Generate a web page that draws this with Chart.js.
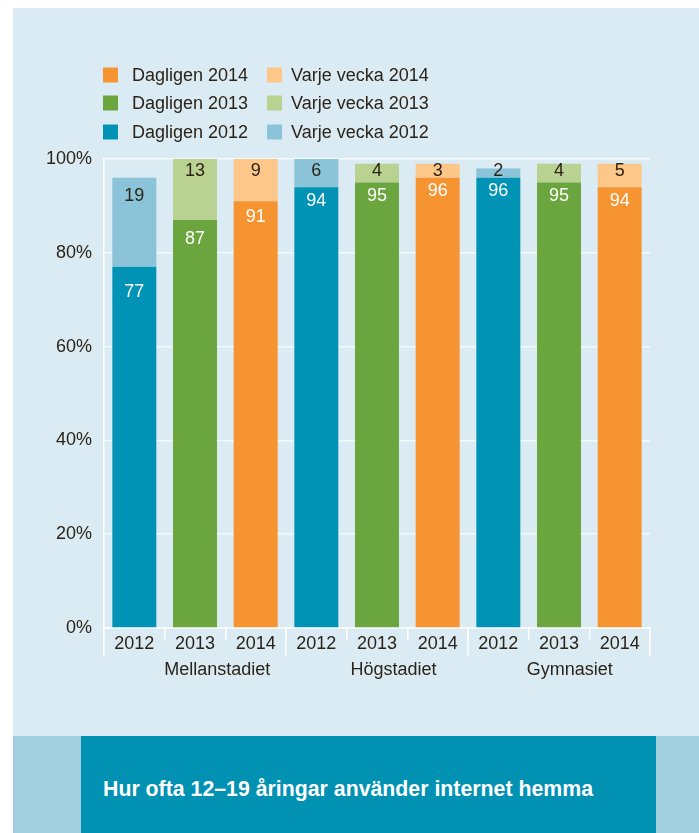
<!DOCTYPE html>
<html>
<head>
<meta charset="utf-8">
<script src="https://cdn.jsdelivr.net/npm/chart.js@4.4.1/dist/chart.umd.min.js"></script>
<style>
  html, body { margin: 0; padding: 0; background: #ffffff; width: 699px; height: 833px; overflow: hidden; }
  #panel { position: absolute; left: 13px; top: 8px; width: 686px; height: 728px; background: #dbebf3; }
  #strip { position: absolute; left: 13px; top: 736px; width: 686px; height: 97px; background: #a2cfe0; }
  #box { position: absolute; left: 81px; top: 736px; width: 575px; height: 97px; background: #0091b3; }
  #title { position: absolute; left: 103px; top: 777px; color: #ffffff; font: bold 21.3px "Liberation Sans", Arial, sans-serif; white-space: nowrap; }
  #wrap { position: absolute; left: 0; top: 0; width: 699px; height: 833px; }
</style>
</head>
<body>
<div id="panel"></div>
<div id="strip"></div>
<div id="box"></div>
<div id="title">Hur ofta 12–19 åringar använder internet hemma</div>
<div id="wrap"><canvas id="c" width="699" height="833"></canvas></div>
<script>
// ---- Data ----
const years = ['2012', '2013', '2014'];
const groups = ['Mellanstadiet', 'Högstadiet', 'Gymnasiet'];
// values per group (Mellanstadiet, Högstadiet, Gymnasiet)
const daily2012 = [77, 94, 96];
const weekly2012 = [19, 6, 2];
const daily2013 = [87, 95, 95];
const weekly2013 = [13, 4, 4];
const daily2014 = [91, 96, 94];
const weekly2014 = [9, 3, 5];
const yTicks = [0, 20, 40, 60, 80, 100];

// ---- Build ----
const categories = groups.flatMap(() => years);
function place(yearIndex, values) {
  const arr = new Array(categories.length).fill(null);
  values.forEach((v, g) => { arr[g * years.length + yearIndex] = v; });
  return arr;
}
const TEXT = '#2b2418';
const FONT = '"Liberation Sans", Arial, sans-serif';
const FS = 18;

const datasets = [
  { label: 'Dagligen 2012', data: place(0, daily2012), backgroundColor: '#0093b6', dark: true },
  { label: 'Varje vecka 2012', data: place(0, weekly2012), backgroundColor: '#8bc3d8', dark: false },
  { label: 'Dagligen 2013', data: place(1, daily2013), backgroundColor: '#6ba53d', dark: true },
  { label: 'Varje vecka 2013', data: place(1, weekly2013), backgroundColor: '#b9d191', dark: false },
  { label: 'Dagligen 2014', data: place(2, daily2014), backgroundColor: '#f59431', dark: true },
  { label: 'Varje vecka 2014', data: place(2, weekly2014), backgroundColor: '#fcc788', dark: false }
].map(d => Object.assign(d, { stack: 's', xAxisID: 'x', barPercentage: 0.725, categoryPercentage: 1.0, borderWidth: 0 }));

const valueLabels = {
  id: 'valueLabels',
  afterDatasetsDraw(chart) {
    const ctx = chart.ctx;
    const top = chart.chartArea.top;
    const pxPerUnit = chart.chartArea.height / 100;
    ctx.save();
    ctx.font = FS + 'px ' + FONT;
    ctx.textAlign = 'center';
    ctx.textBaseline = 'middle';
    chart.data.datasets.forEach((ds, i) => {
      const meta = chart.getDatasetMeta(i);
      meta.data.forEach((el, j) => {
        const v = ds.data[j];
        if (v == null) return;
        const h = el.base - el.y;
        let y;
        if (ds.dark) y = el.y + 13 + 0.13 * Math.max(0, 96 * pxPerUnit - h);
        else y = Math.max(top + 12.5, el.y + 0.2 * h);
        ctx.fillStyle = ds.dark ? '#ffffff' : TEXT;
        ctx.fillText(String(v), el.x, y);
      });
    });
    ctx.restore();
  }
};

const customLegend = {
  id: 'customLegend',
  afterDraw(chart) {
    const ctx = chart.ctx;
    const dsets = chart.data.datasets;
    const rows = [[4, 5], [2, 3], [0, 1]];
    const rowY = [75, 103, 132];
    const colX = [103, 267];
    const textX = [132, 291];
    ctx.save();
    ctx.font = FS + 'px ' + FONT;
    ctx.textBaseline = 'middle';
    ctx.textAlign = 'left';
    rows.forEach((r, ri) => {
      r.forEach((di, ci) => {
        ctx.fillStyle = dsets[di].backgroundColor;
        ctx.fillRect(colX[ci], rowY[ri] - 7.5, 15, 15);
        ctx.fillStyle = TEXT;
        ctx.fillText(dsets[di].label, textX[ci], rowY[ri] + 1);
      });
    });
    ctx.restore();
  }
};

// group labels sit slightly right of their group's centre in the original
const shiftGroupLabels = {
  id: 'shiftGroupLabels',
  afterLayout(chart) {
    const s = chart.scales.x3;
    const a = chart.chartArea;
    s.left = a.left + 25;
    s.right = a.right + 8;
    s.configure();
  }
};

new Chart(document.getElementById('c'), {
  type: 'bar',
  data: { labels: categories, datasets },
  options: {
    responsive: false,
    animation: false,
    layout: { padding: { top: 159, left: 0, right: 49, bottom: 833 - 628 - 0 - 28 - 28 } },
    plugins: { legend: { display: false }, tooltip: { enabled: false } },
    scales: {
      // group boundary lines (closest to the plot)
      x2: {
        type: 'category',
        labels: groups,
        position: 'bottom',
        weight: 0,
        offset: true,
        afterFit(s) { s.height = 0; },
        grid: { offset: true, drawOnChartArea: false, drawTicks: true, tickLength: 28, color: '#ffffff', lineWidth: 1.5 },
        border: { display: false },
        ticks: { display: false }
      },
      x: {
        type: 'category',
        stacked: true,
        offset: true,
        position: 'bottom',
        weight: 1,
        afterFit(s) { s.height = 28; },
        grid: { offset: true, drawOnChartArea: false, drawTicks: true, tickLength: 12, color: '#ffffff', lineWidth: 1.5 },
        border: { display: true, color: '#ffffff', width: 1.5 },
        ticks: { color: TEXT, font: { family: FONT, size: FS }, padding: -7, maxRotation: 0, autoSkip: false }
      },
      x3: {
        type: 'category',
        labels: groups,
        position: 'bottom',
        weight: 2,
        offset: true,
        afterFit(s) { s.height = 28; },
        grid: { display: false, drawTicks: false },
        border: { display: false },
        ticks: { color: TEXT, font: { family: FONT, size: FS }, padding: 3, maxRotation: 0, autoSkip: false }
      },
      y: {
        stacked: true,
        min: 0,
        max: 100,
        afterFit(s) { s.width = 104; },
        afterBuildTicks(s) { s.ticks = yTicks.map(v => ({ value: v })); },
        grid: { color: '#f4f9fb', lineWidth: 1.5, drawTicks: false },
        border: { display: true, color: '#ffffff', width: 1.5 },
        ticks: { color: TEXT, font: { family: FONT, size: FS }, padding: 12, callback: v => v + '%' }
      }
    }
  },
  plugins: [valueLabels, customLegend, shiftGroupLabels]
});
</script>
</body>
</html>
